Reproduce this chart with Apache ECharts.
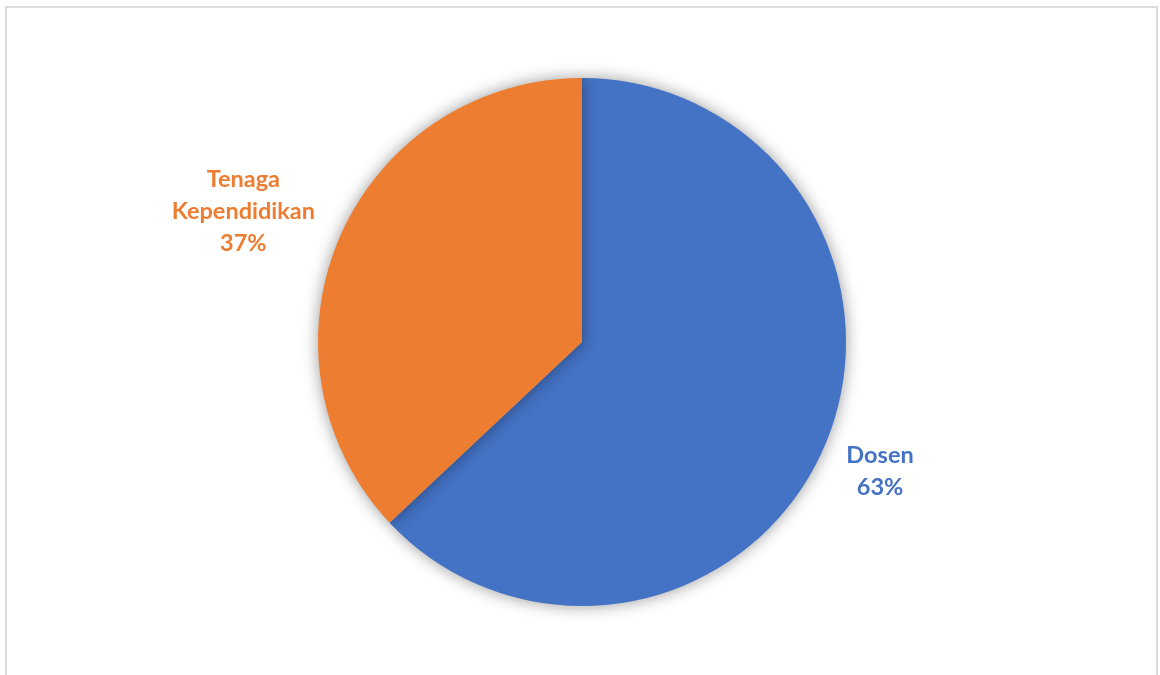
<!DOCTYPE html>
<html>
<head>
<meta charset="utf-8">
<script src="https://cdn.jsdelivr.net/npm/echarts@6/dist/echarts.min.js"></script>
<style>
  html, body { margin: 0; padding: 0; background: #fff; }
  #frame {
    position: absolute; left: 5px; top: 6px; width: 1149px; height: 700px;
    border: 2px solid #dcdcdc; border-bottom: none;
  }
  #main { position: absolute; left: 0; top: 0; width: 1160px; height: 675px; }
</style>
</head>
<body>
<div id="frame"></div>
<div id="main"></div>
<script>
// data
const names = ['Dosen', 'Tenaga\nKependidikan']
const values = [63, 37]
const colors = ['#4472c4', '#ed7d31']

// label placement along each slice's mid angle (radius multiple, angle nudge in degrees)
const labelDist = [1.23, 1.375]
const labelNudge = [0, -2.3]

const cx = 582, cy = 342, r = 264

const chart = echarts.init(document.getElementById('main'))
const total = values.reduce((a, b) => a + b, 0)

const midAngle = (i) => {
    let before = 0
    for (let k = 0; k < i; k++) before += values[k]
    return (before + values[i] / 2) / total * 360 + labelNudge[i]
}

chart.setOption({
    animation: false,
    series: [
        {
            type: 'pie',
            center: [cx, cy],
            radius: [0, r],
            startAngle: 90,
            clockwise: true,
            data: names.map((n, i) => ({
                name: n,
                value: values[i],
                itemStyle: { color: colors[i] },
                label: { color: colors[i] }
            })),
            itemStyle: {
                shadowBlur: 16,
                shadowColor: 'rgba(0,0,0,0.4)'
            },
            label: {
                show: true,
                position: 'outside',
                formatter: p => p.name + '\n' + Math.round(p.percent) + '%',
                fontFamily: 'Lato',
                fontWeight: 'bold',
                fontSize: 23.5,
                lineHeight: 32,
                align: 'center'
            },
            labelLine: { show: false },
            labelLayout: (params) => {
                const i = params.dataIndex
                const a = midAngle(i) * Math.PI / 180
                const d = r * labelDist[i]
                return {
                    x: cx + Math.sin(a) * d,
                    y: cy - Math.cos(a) * d,
                    align: 'center',
                    verticalAlign: 'middle'
                }
            }
        }
    ]
})
</script>
</body>
</html>
